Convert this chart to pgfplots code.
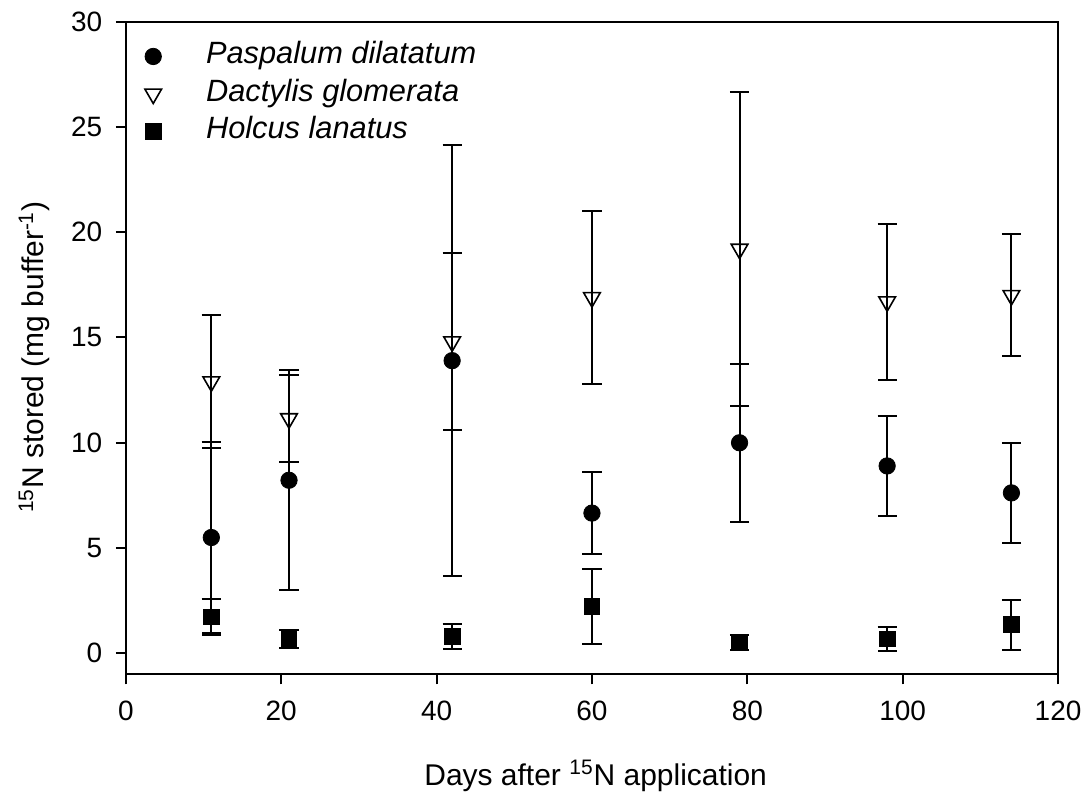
\documentclass[border=0pt]{standalone}
\usepackage{fontspec}
\setmainfont{Liberation Sans}
\usepackage{pgfplots}
\pgfplotsset{compat=1.18}

\newcommand\lblfont{\fontsize{15bp}{18bp}\selectfont}
\newcommand\legfont{\fontsize{15.4bp}{18.5bp}\selectfont}
\newcommand\tickfont{\fontsize{14bp}{17bp}\selectfont}

% day, mean, error (half-width of the bar)
\pgfplotstableread{
d   m      e
11  5.50   4.55
21  8.22   5.22
42  13.90  10.24
60  6.66   1.95
79  10.00  3.75
98  8.90   2.38
114 7.62   2.38
}\paspalum
\pgfplotstableread{
d   m      e
11  12.90  3.15
21  11.15  2.08
42  14.80  4.20
60  16.90  4.10
79  19.20  7.45
98  16.70  3.70
114 17.00  2.90
}\dactylis
\pgfplotstableread{
d   m      e
11  1.73   0.85
21  0.68   0.42
42  0.80   0.60
60  2.23   1.77
79  0.50   0.35
98  0.69   0.57
114 1.36   1.18
}\holcus

\begin{document}
\begin{tikzpicture}
\begin{axis}[
  scale only axis, width=466.5bp, height=326.65bp,
  xmin=0, xmax=120, ymin=-1, ymax=30,
  xtick={0,20,...,120}, ytick={0,5,...,30},
  tick pos=left, tick align=outside, major tick length=5bp,
  axis line style={line width=1bp},
  every tick/.style={line width=1bp, black},
  /pgf/number format/assume math mode=true,
  tick label style={font=\tickfont},
  xticklabel style={yshift=-5bp},
  yticklabel style={xshift=-3.3bp},
  label style={font=\lblfont},
  xlabel={Days after \textsuperscript{15}N application},
  xlabel style={at={(axis description cs:0.504,0)}, anchor=base, yshift=-55.5bp},
  ylabel={\textsuperscript{15}N stored (mg buffer\textsuperscript{-1})},
  ylabel style={at={(axis description cs:-0.0884,0.486)}, anchor=base},
  legend style={draw=none, fill=none, inner sep=0pt,
    at={(axis description cs:0.02,0.976)}, anchor=north west,
    font=\legfont\itshape,
    nodes={inner ysep=2.625bp, text height=10.5bp, text depth=3bp},
    /tikz/every odd column/.append style={column sep=20.3bp}},
  legend cell align=left,
  error bars/error bar style={line width=1bp, black},
  error bars/error mark options={rotate=90, line width=1bp, black, mark size=4.8bp},
]
\addplot[only marks, mark=*, mark size=4.1bp, black, mark options={fill=black},
  error bars/.cd, y dir=both, y explicit]
  table[x=d, y=m, y error=e] {\paspalum};
\addlegendentry{Paspalum dilatatum}
\addplot[only marks, mark=triangle, mark size=4.8bp, black,
  mark options={fill=white, rotate=180, line width=0.8bp},
  error bars/.cd, y dir=both, y explicit]
  table[x=d, y=m, y error=e] {\dactylis};
\addlegendentry{Dactylis glomerata}
\addplot[only marks, mark=square*, mark size=3.9bp, black, mark options={fill=black},
  error bars/.cd, y dir=both, y explicit]
  table[x=d, y=m, y error=e] {\holcus};
\addlegendentry{Holcus lanatus}
\end{axis}
% page extent around the axis frame
\path (current axis.south west) ++(-63bp,-61.5bp) coordinate (bbsw);
\path (current axis.north east) ++(14.5bp,10.85bp) coordinate (bbne);
\path (bbsw) rectangle (bbne);
\end{tikzpicture}
\end{document}
